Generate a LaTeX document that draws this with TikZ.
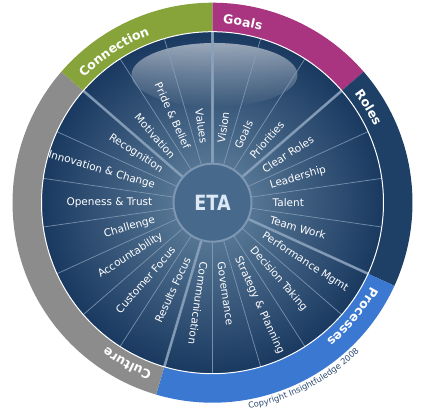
\documentclass[tikz,border=0pt]{standalone}
\usepackage{fontspec}
\setmainfont{DejaVu Sans}
\usetikzlibrary{decorations.text,fadings}

\definecolor{goalsColor}{HTML}{A9347F}
\definecolor{rolesColor}{HTML}{1E3F66}
\definecolor{processesColor}{HTML}{3B78D2}
\definecolor{cultureColor}{HTML}{8C8C8C}
\definecolor{connectionColor}{HTML}{86A43A}
\definecolor{discInner}{HTML}{6787A3}
\definecolor{discOuter}{HTML}{1A3960}
\definecolor{spokeColor}{HTML}{8AA2BC}
\definecolor{etaFill}{HTML}{46698C}
\definecolor{etaRing}{HTML}{7D97B3}
\definecolor{etaLetters}{HTML}{DCE8F5}
\definecolor{copyColor}{HTML}{2B4A70}

\newcommand\ringFont{\fontsize{12.5}{15}\selectfont\bfseries}
\newcommand\copyFont{\fontsize{8.3}{10}\selectfont}

\tikzfading[name=glossfade, top color=transparent!0, bottom color=transparent!100]

\begin{document}
\begin{tikzpicture}[x=1pt, y=1pt,
    spoke/.style={draw=spokeColor, draw opacity=0.8, line width=0.7pt},
    areaSpoke/.style={draw=spokeColor, draw opacity=0.85, line width=2.6pt},
    itemLabel/.style={text=white, inner sep=0pt, font=\fontsize{10.5}{12}\selectfont}]
% Constants
\def\outerRadius{200} % Outer edge of the coloured ring
\def\discRadius{171} % Edge of the blue disc
\def\etaRadius{39} % Radius of the centre circle
\def\labelRadius{60} % Where the item labels start
\def\ringTextRadius{179} % Baseline of the area titles
\def\copyRadius{209} % Baseline of the copyright line
\def\sliceAngle{360/22} % Angle taken by one item

\useasboundingbox (-212.5,-208.3) rectangle (210.5,202.7);

% Blue disc with its gloss
\shade[inner color=discInner, outer color=discOuter] (0,0) circle (\discRadius);
\fill[white, fill opacity=0.55, path fading=glossfade] (2,127.7) ellipse [x radius=83, y radius=32];

% Thin spokes between the items
\foreach \k in {0,...,21} {
    \pgfmathsetmacro\ang{90-\k*\sliceAngle}
    \draw[spoke] (\ang:\etaRadius) -- (\ang:\discRadius);
}
% Thicker spokes between the areas
\foreach \k in {0,3,7,12,19} {
    \pgfmathsetmacro\ang{90-\k*\sliceAngle}
    \draw[areaSpoke] (\ang:\etaRadius) -- (\ang:\discRadius);
}

% Centre circle
\node[circle, draw=etaRing, line width=2pt, fill=etaFill, minimum size=2*\etaRadius, inner sep=0pt,
      text=etaLetters, font=\fontsize{21}{24}\selectfont\bfseries] (eta) at (0,0) {\scalebox{0.84}[1]{ETA}};

% Item labels, read outwards on the right and inwards on the left
\foreach \itemText [count=\k from 0] in {Vision, Goals, Priorities, Clear Roles, Leadership, Talent, Team Work,
    Performance Mgmt, Decision Taking, Strategy \& Planning, Governance, Communication,
    Results Focus, Customer Focus, Accountability, Challenge, Openess \& Trust, Innovation \& Change, Recognition,
    Motivation, Pride \& Belief, Values} {
    \pgfmathsetmacro\ang{90-(\k+0.5)*\sliceAngle}
    \ifdim\ang pt>-100pt
        \node[itemLabel, anchor=west, rotate=\ang] (item-\k) at (\ang:\labelRadius) {\itemText};
    \else
        \node[itemLabel, anchor=east, rotate=\ang+180] (item-\k) at (\ang:\labelRadius) {\itemText};
    \fi
}

% Coloured ring, one sector for each area
\foreach \kStart/\kEnd/\areaColor/\areaName in {0/3/goalsColor/Goals, 3/7/rolesColor/Roles,
    7/12/processesColor/Processes, 12/19/cultureColor/Culture, 19/22/connectionColor/Connection} {
    \pgfmathsetmacro\aStart{90-\kStart*\sliceAngle}
    \pgfmathsetmacro\aEnd{90-\kEnd*\sliceAngle}
    \pgfmathsetmacro\aText{\aStart-3.3}
    \fill[\areaColor] (\aStart:\outerRadius) arc[start angle=\aStart, end angle=\aEnd, radius=\outerRadius]
        -- (\aEnd:\discRadius) arc[start angle=\aEnd, end angle=\aStart, radius=\discRadius] -- cycle;
    % Title of the area along the ring
    \path[decorate, decoration={text along path, text color=white, text/.expanded={|\noexpand\ringFont|\areaName}}]
        (\aText:\ringTextRadius) arc[start angle=\aText, end angle=\aEnd, radius=\ringTextRadius];
}
\draw[white, line width=1pt] (0,0) circle (\discRadius);

% Copyright line under the ring
\path[decorate, decoration={text along path, text color=copyColor, text={|\copyFont|Copyright Insightfuledge 2008}}]
    (-80:\copyRadius) arc[start angle=-80, end angle=-30, radius=\copyRadius];

\end{tikzpicture}
\end{document}
